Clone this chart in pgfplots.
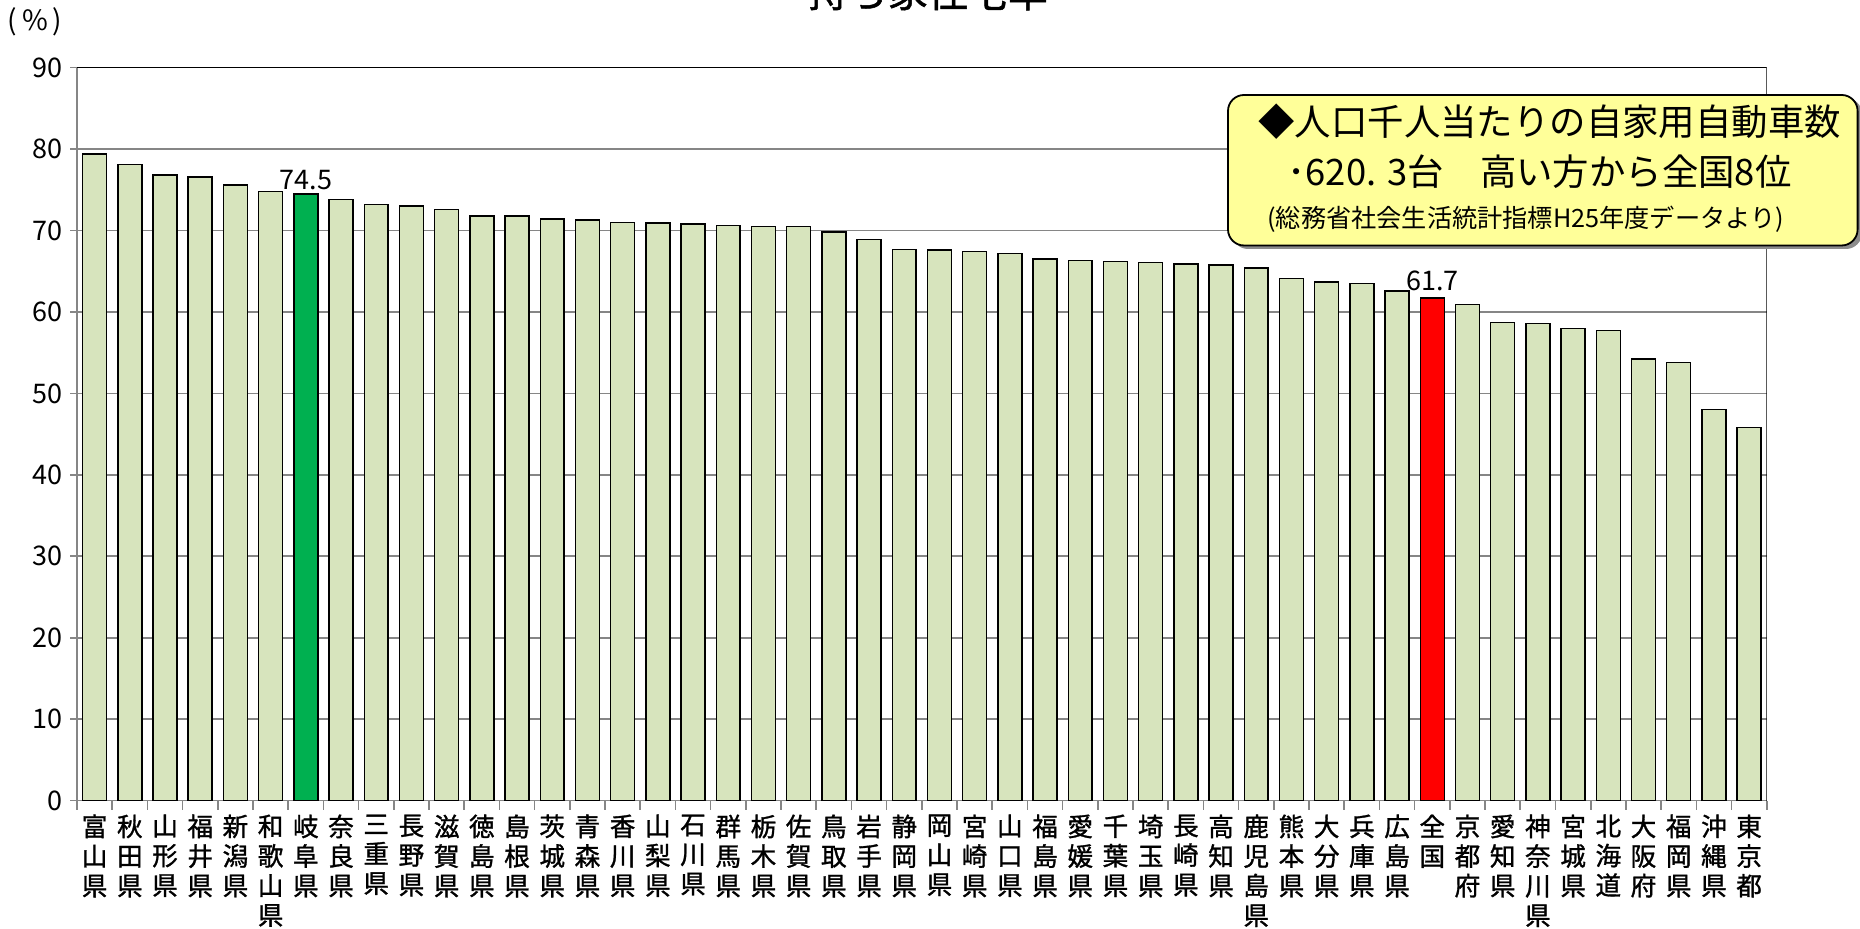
\documentclass[border=0pt]{standalone}
\usepackage{fontspec}
\setmainfont{Noto Sans CJK JP}
\newfontfamily\heavyjp[FakeBold=1.2]{Noto Sans CJK JP}
\usepackage{pgfplots}
\pgfplotsset{compat=1.18}
\definecolor{barfill}{RGB}{215,228,189}
\definecolor{hlgreen}{RGB}{0,176,80}
\definecolor{hlred}{RGB}{255,0,0}
\definecolor{gridgray}{RGB}{134,134,134}
\definecolor{boxyellow}{RGB}{255,255,153}
\begin{document}
\begin{tikzpicture}
\begin{axis}[
  at={(38.5pt,64.2pt)}, anchor=south west,
  width=844.85pt, height=366.45pt, scale only axis,
  /pgf/number format/assume math mode=true,
  xmin=-0.5, xmax=47.5, ymin=0, ymax=90,
  ybar, bar width=0.68, bar shift=0pt,
  ytick={0,10,...,90},
  ymajorgrids, grid style={draw=gridgray, line width=0.8pt},
  axis x line*=bottom, axis y line*=left,
  axis line style={draw=gridgray, line width=0.8pt},
  tick align=outside,
  major tick length=3.5pt, minor tick length=4.7pt,
  xtick={0,...,47},
  minor xtick={-0.5,0.5,...,47.5},
  major x tick style={draw=none},
  minor x tick style={draw=gridgray, line width=0.8pt},
  ytick style={draw=gridgray, line width=0.8pt},
  yticklabel style={font=\fontsize{13.5}{13.5}\selectfont},
  xticklabel style={align=center, anchor=north, font=\heavyjp\fontsize{12.8}{14.8}\selectfont},
  xticklabels={{富\\山\\県},{秋\\田\\県},{山\\形\\県},{福\\井\\県},{新\\潟\\県},{和\\歌\\山\\県},{岐\\阜\\県},{奈\\良\\県},{三\\重\\県},{長\\野\\県},{滋\\賀\\県},{徳\\島\\県},{島\\根\\県},{茨\\城\\県},{青\\森\\県},{香\\川\\県},{山\\梨\\県},{石\\川\\県},{群\\馬\\県},{栃\\木\\県},{佐\\賀\\県},{鳥\\取\\県},{岩\\手\\県},{静\\岡\\県},{岡\\山\\県},{宮\\崎\\県},{山\\口\\県},{福\\島\\県},{愛\\媛\\県},{千\\葉\\県},{埼\\玉\\県},{長\\崎\\県},{高\\知\\県},{鹿\\児\\島\\県},{熊\\本\\県},{大\\分\\県},{兵\\庫\\県},{広\\島\\県},{全\\国},{京\\都\\府},{愛\\知\\県},{神\\奈\\川\\県},{宮\\城\\県},{北\\海\\道},{大\\阪\\府},{福\\岡\\県},{沖\\縄\\県},{東\\京\\都}},
]
\addplot[fill=barfill, draw=black, line width=0.75pt] coordinates {
(0,79.4) (1,78.1) (2,76.8) (3,76.6) (4,75.6) (5,74.8)
(7,73.8) (8,73.2) (9,73.0) (10,72.6) (11,71.8) (12,71.8) (13,71.4) (14,71.3)
(15,71.0) (16,70.9) (17,70.8) (18,70.6) (19,70.5) (20,70.5) (21,69.8) (22,68.9)
(23,67.7) (24,67.6) (25,67.4) (26,67.2) (27,66.5) (28,66.3) (29,66.2) (30,66.1)
(31,65.9) (32,65.8) (33,65.4) (34,64.1) (35,63.7) (36,63.5) (37,62.6)
(39,60.9) (40,58.7) (41,58.6) (42,58.0) (43,57.7) (44,54.2) (45,53.8) (46,48.0) (47,45.8)
};
\addplot[fill=hlgreen, draw=black, line width=0.75pt, nodes near coords,
  nodes near coords style={font=\fontsize{13.5}{13.5}\selectfont, text=black, anchor=south, inner sep=1.5pt}]
  coordinates {(6,74.5)};
\addplot[fill=hlred, draw=black, line width=0.75pt, nodes near coords,
  nodes near coords style={font=\fontsize{13.5}{13.5}\selectfont, text=black, anchor=south, inner sep=3.5pt}]
  coordinates {(38,61.7)};
\draw[black, line width=0.8pt] (rel axis cs:0,1) -- (rel axis cs:1,1) -- (rel axis cs:1,0);
\end{axis}
% title (mostly cut off at the top, as in the reference)
\node[anchor=base, inner sep=0, font=\heavyjp\fontsize{20}{20}\selectfont] at (464pt,461pt) {持ち家住宅率};
\node[inner sep=0, font=\fontsize{14}{14}\selectfont] at (17.5pt,453.5pt) {(\,\%\,)};
% callout box
\fill[black!45, rounded corners=8pt] (616pt,340pt) rectangle (931pt,415.5pt);
\draw[fill=boxyellow, draw=black, line width=0.9pt, rounded corners=8pt] (614pt,341.75pt) rectangle (928.8pt,417pt);
\node[anchor=west, inner sep=0, font=\fontsize{18.2}{18.2}\selectfont] at (629pt,403.5pt) {◆人口千人当たりの自家用自動車数};
\node[anchor=west, inner sep=0, font=\fontsize{18.2}{18.2}\selectfont] at (643.5pt,378.5pt) {･620. 3台　高い方から全国8位};
\node[anchor=west, inner sep=0, font=\fontsize{12.6}{12.6}\selectfont] at (633.5pt,355pt) {(総務省社会生活統計指標H25年度データより)};
\pgfresetboundingbox
\useasboundingbox (0,0) rectangle (930pt,464.5pt);
\end{tikzpicture}
\end{document}
